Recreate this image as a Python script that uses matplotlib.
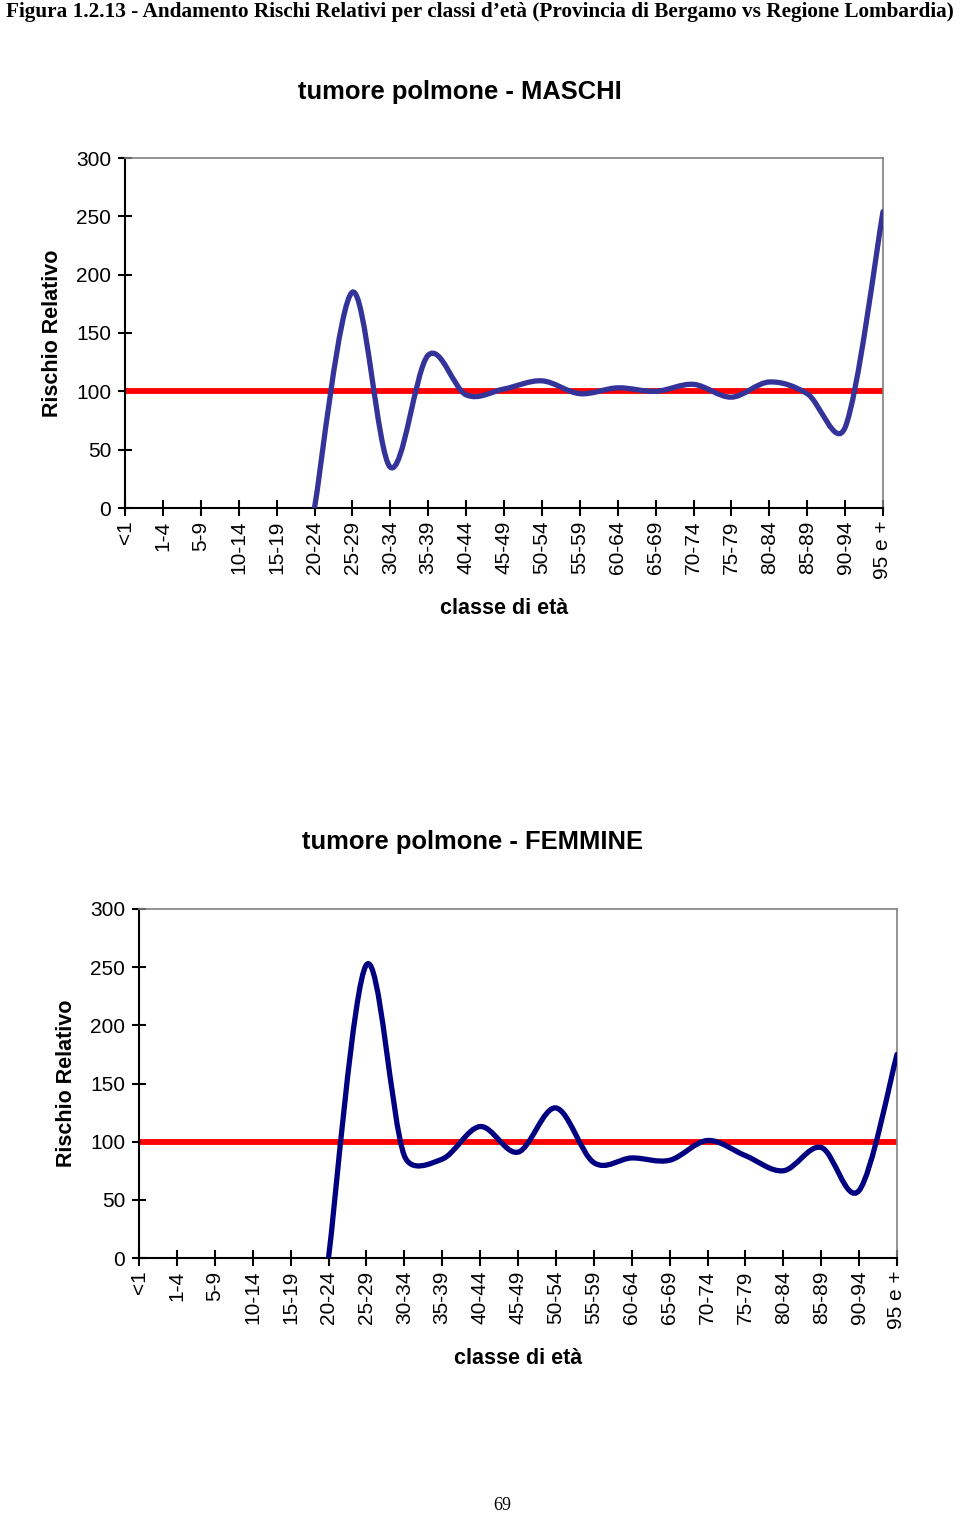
import matplotlib
matplotlib.use("Agg")
import matplotlib.pyplot as plt
import numpy as np
from matplotlib.path import Path
from matplotlib.patches import PathPatch

plt.rcParams['font.family'] = ['Liberation Sans', 'DejaVu Sans']

# age classes on the x axis
classi = ["<1", "1-4", "5-9", "10-14", "15-19", "20-24", "25-29", "30-34",
          "35-39", "40-44", "45-49", "50-54", "55-59", "60-64", "65-69",
          "70-74", "75-79", "80-84", "85-89", "90-94", "95 e +"]

# relative risk, series start at 20-24 (earlier classes have no data)
inizio = 5
rr_maschi = [0, 185, 35, 131, 97, 102, 109, 98, 103, 100, 106, 95, 108, 98, 69, 254]
rr_femmine = [0, 252, 88, 85, 113, 91, 129, 82, 86, 84, 101, 88, 75, 95, 58, 175]
riferimento = [100] * len(classi)  # Regione Lombardia = 100

titolo = "Figura 1.2.13 - Andamento Rischi Relativi per classi d\u2019et\u00e0 (Provincia di Bergamo vs Regione Lombardia)"


def smooth_path(ax, x, y):
    # Excel-like smoothed line, computed in screen space:
    # tangent (p2 - p0) / 6, each arm capped at half of its own segment
    pts = ax.transData.transform(np.column_stack([x, y]).astype(float))
    n = len(pts)
    after, before = [], []
    for i in range(n):
        p0 = pts[max(i - 1, 0)]
        p2 = pts[min(i + 1, n - 1)]
        t = (p2 - p0) / 6.0
        tl = np.hypot(*t)
        la = np.hypot(*(p2 - pts[i])) / 2.0
        lb = np.hypot(*(pts[i] - p0)) / 2.0
        after.append(t * (min(1.0, la / tl) if tl > 0 else 0))
        before.append(t * (min(1.0, lb / tl) if tl > 0 else 0))
    verts = [pts[0]]
    codes = [Path.MOVETO]
    for i in range(n - 1):
        verts += [pts[i] + after[i], pts[i + 1] - before[i + 1], pts[i + 1]]
        codes += [Path.CURVE4] * 3
    verts = ax.transData.inverted().transform(np.array(verts))
    return Path(verts, codes)


def draw_panel(ax, valori, colore):
    xs = np.arange(len(classi))
    ax.set_xlim(0, len(classi) - 1)
    ax.set_ylim(0, 300)
    ax.plot(xs, riferimento, color="#ff0000", lw=4.2, solid_capstyle="butt", zorder=2)
    xv = xs[inizio:inizio + len(valori)]
    patch = PathPatch(smooth_path(ax, xv, valori), fill=False, edgecolor=colore,
                      lw=3.8, capstyle="round", zorder=3)
    ax.add_patch(patch)
    ax.set_yticks(np.arange(0, 301, 50))
    ax.set_xticks(xs)
    ax.set_xticklabels(classi, rotation=90, fontsize=15)
    ax.tick_params(axis="y", direction="inout", length=10, width=1.5, labelsize=15, pad=5)
    ax.tick_params(axis="x", direction="inout", length=12, width=1.5, pad=3)
    for s in ["left", "bottom"]:
        ax.spines[s].set_color("black")
        ax.spines[s].set_linewidth(1.5)
    for s in ["top", "right"]:
        ax.spines[s].set_color("#808080")
        ax.spines[s].set_linewidth(1.2)
    ax.set_ylabel("Rischio Relativo", fontsize=15.5, fontweight="bold", labelpad=9)
    ax.set_xlabel("classe di et\u00e0", fontsize=15.5, fontweight="bold", labelpad=14)


fig = plt.figure(figsize=(9.6, 15.14), dpi=100)
W, H = 960.0, 1514.0

ax1 = fig.add_axes([125 / W, 1 - 508 / H, 758 / W, 350 / H])
draw_panel(ax1, rr_maschi, "#333399")
fig.text(460 / W, 1 - 92 / H, "tumore polmone - MASCHI", ha="center", va="center",
         fontsize=18.4, fontweight="bold")

ax2 = fig.add_axes([139 / W, 1 - 1258 / H, 758 / W, 349 / H])
draw_panel(ax2, rr_femmine, "#000080")
fig.text(473 / W, 1 - 842 / H, "tumore polmone - FEMMINE", ha="center", va="center",
         fontsize=18.4, fontweight="bold")

fig.text(480 / W, 1 - 12 / H, titolo, ha="center", va="center", fontsize=15.3,
         fontweight="bold", family=["Liberation Serif", "DejaVu Serif"])
fig.text(502 / W, 1 - 1505 / H, "69", ha="center", va="center", fontsize=13,
         family=["Liberation Serif", "DejaVu Serif"])

fig.savefig("out.png", dpi=100)
